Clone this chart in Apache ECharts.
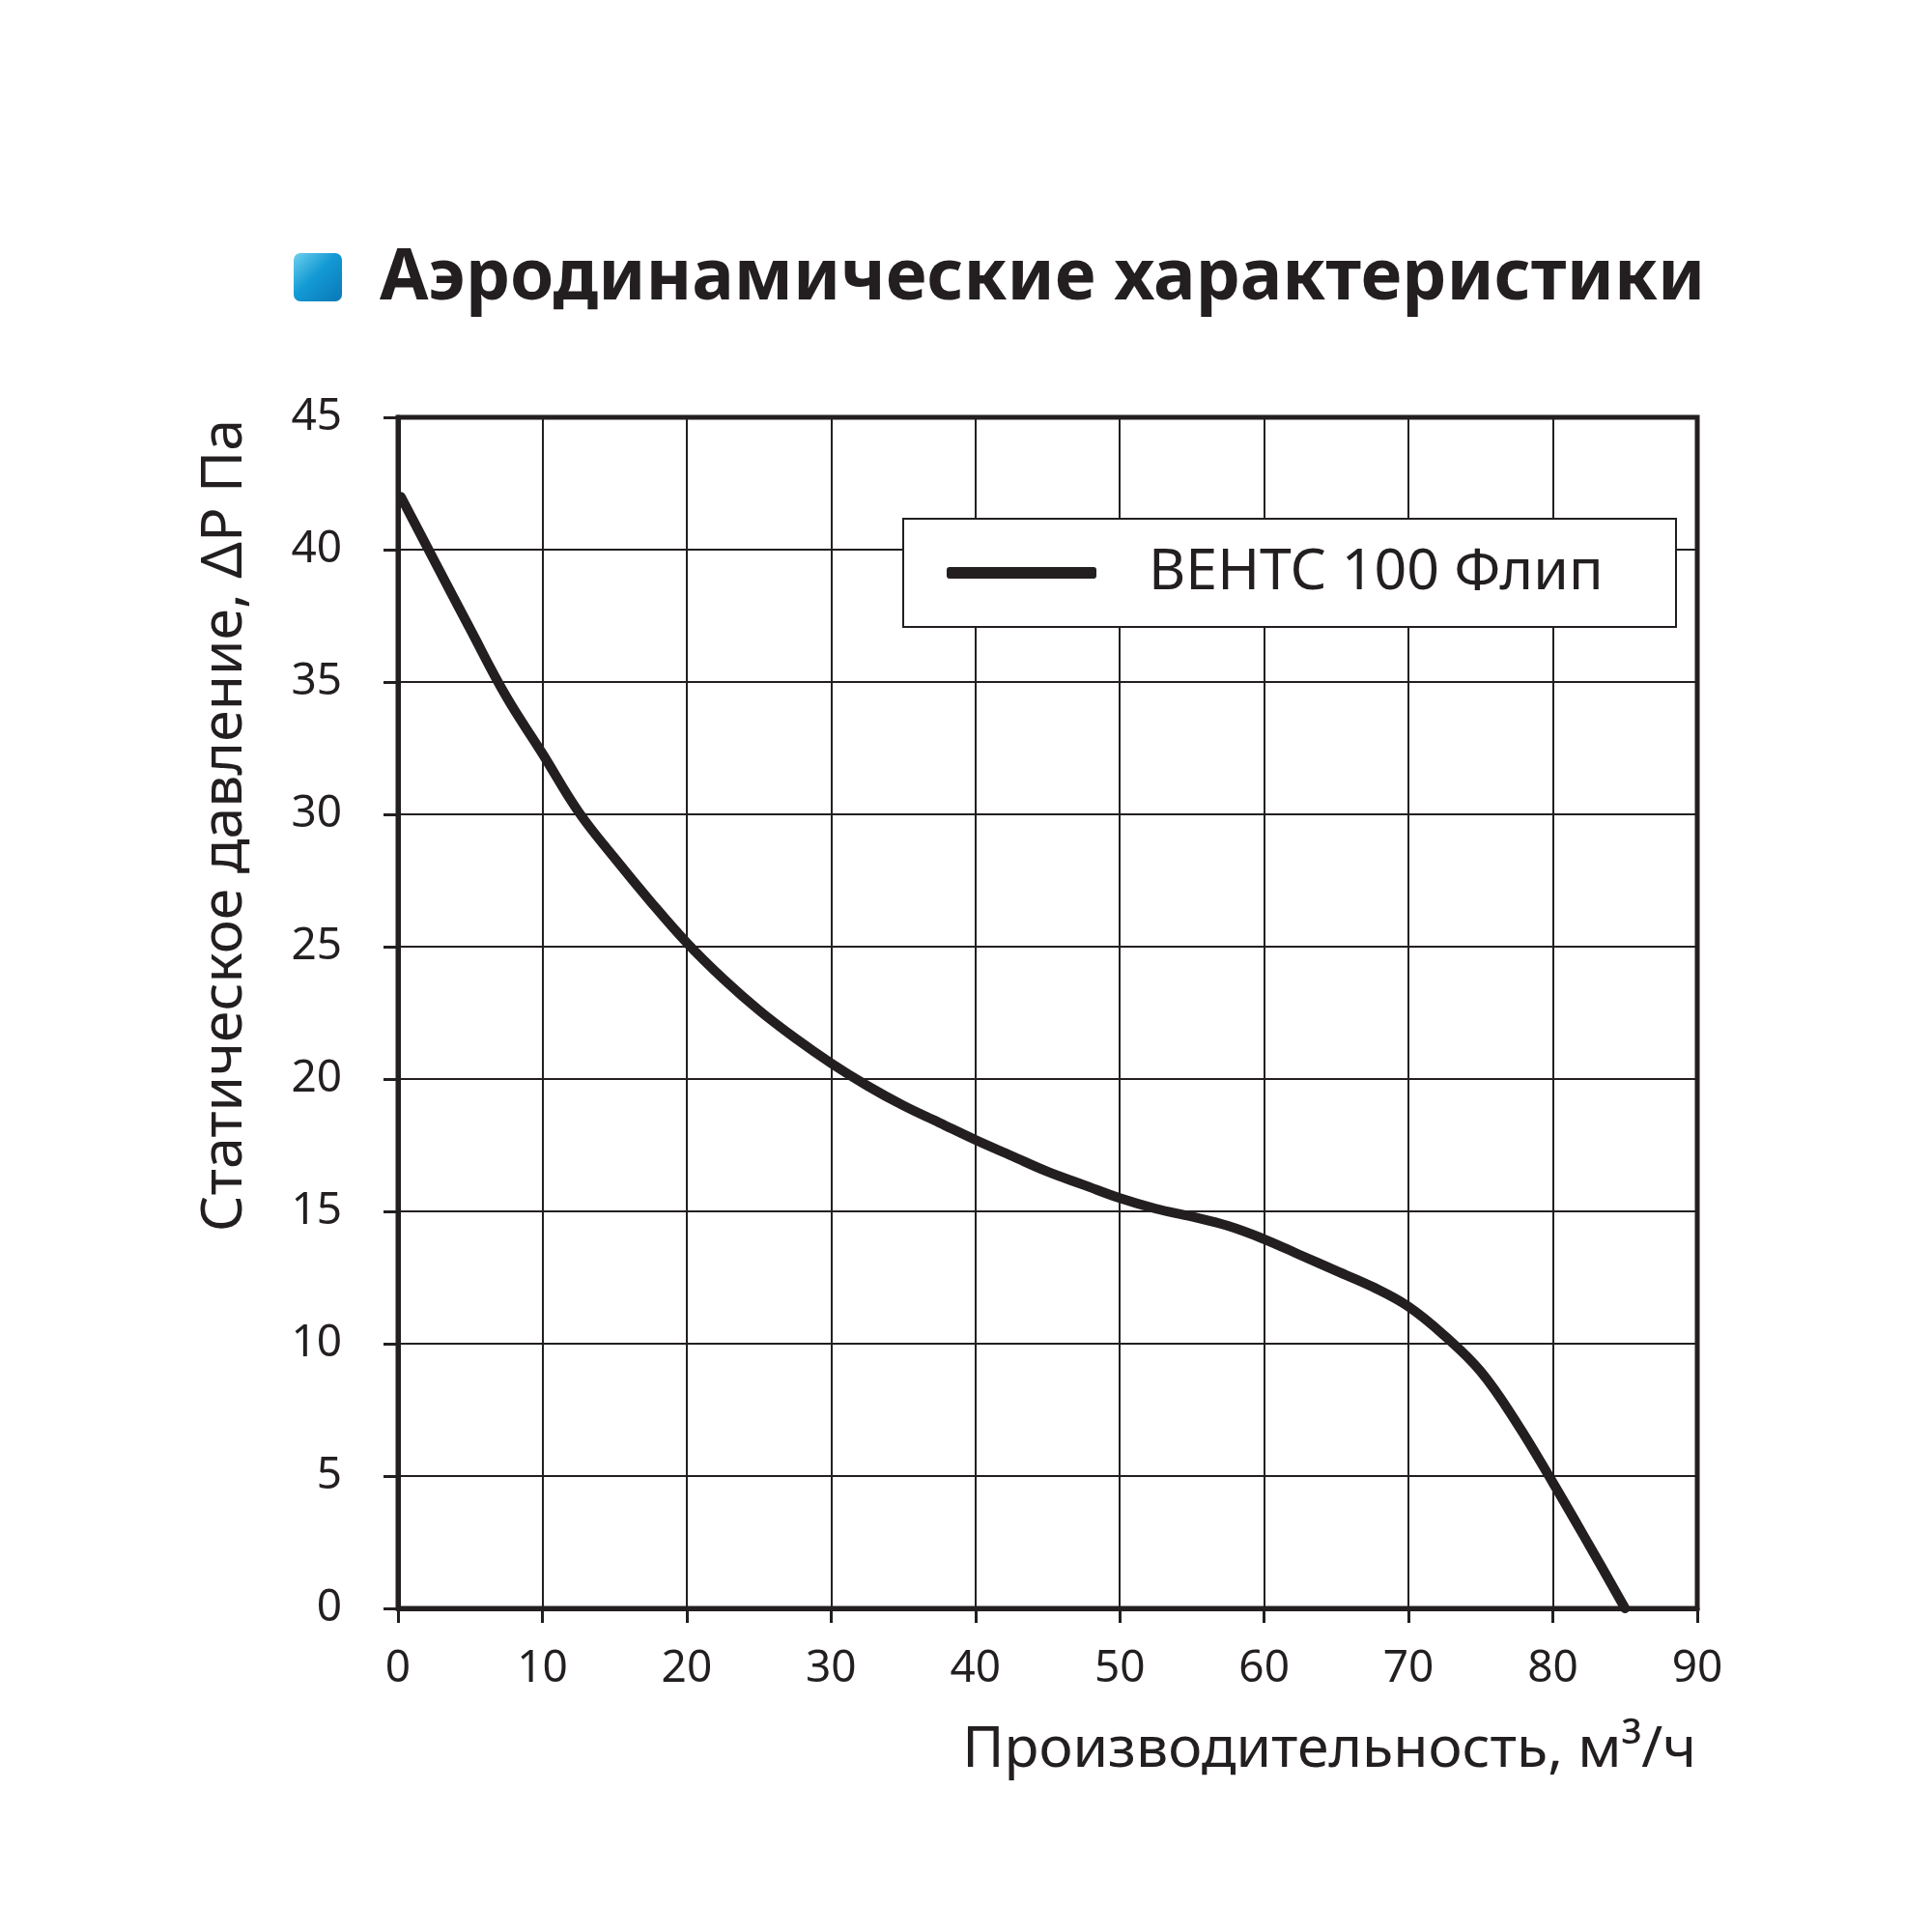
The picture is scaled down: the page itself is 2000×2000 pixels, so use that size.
<!DOCTYPE html>
<html>
<head>
<meta charset="utf-8">
<script src="https://cdn.jsdelivr.net/npm/echarts@6/dist/echarts.min.js"></script>
<style>html,body{margin:0;padding:0;background:#fff}#c{width:2000px;height:2000px}</style>
</head>
<body>
<div id="c"></div>
<script>
// ---- data ----
const titleText = 'Аэродинамические характеристики';
const seriesName = 'ВЕНТС 100 Флип';
const xAxisName = 'Производительность, м³/ч';
const yAxisName = 'Статическое давление, ΔP Па';
const flow = [0.2, 2.5, 5, 7.5, 10, 12.5, 15, 17.5, 20, 22.5, 25, 27.5, 30, 32.5, 35, 37.5, 40, 42.5, 45, 47.5, 50, 52.5, 55, 57.5, 60, 62.5, 65, 67.5, 70, 72.5, 75, 77.5, 80, 82.5, 85];
const pressure = [42.0, 39.6, 37.0, 34.45, 32.3, 30.1, 28.35, 26.7, 25.15, 23.8, 22.6, 21.55, 20.6, 19.75, 19.0, 18.35, 17.7, 17.1, 16.5, 16.0, 15.5, 15.1, 14.8, 14.45, 13.95, 13.35, 12.75, 12.15, 11.4, 10.3, 8.95, 7.0, 4.75, 2.4, 0];
const xTicks = {min: 0, max: 90, interval: 10};
const yTicks = {min: 0, max: 45, interval: 5};

const ink = '#231f20';
const font = 'Noto Sans';
const chart = echarts.init(document.getElementById('c'), null, {renderer: 'canvas'});
chart.setOption({
  animation: false,
  backgroundColor: '#fff',
  textStyle: {fontFamily: font, color: ink},
  grid: {left: 412, right: 243, top: 432, bottom: 335, show: true, borderColor: ink, borderWidth: 5, containLabel: false},
  xAxis: {
    type: 'value', min: xTicks.min, max: xTicks.max, interval: xTicks.interval,
    axisLine: {show: true, lineStyle: {color: ink, width: 5}},
    axisTick: {show: true, length: 15, lineStyle: {color: ink, width: 3}},
    axisLabel: {fontFamily: font, fontSize: 46, color: ink, margin: 40},
    splitLine: {show: true, lineStyle: {color: ink, width: 2}}
  },
  yAxis: {
    type: 'value', min: yTicks.min, max: yTicks.max, interval: yTicks.interval,
    axisLine: {show: true, lineStyle: {color: ink, width: 5}},
    axisTick: {show: true, length: 15, lineStyle: {color: ink, width: 3}},
    axisLabel: {fontFamily: font, fontSize: 46, color: ink, margin: 58},
    splitLine: {show: true, lineStyle: {color: ink, width: 2}}
  },
  legend: {
    show: true, left: 935, top: 537, orient: 'horizontal',
    padding: [25, 0, 25, 45],
    backgroundColor: '#fff', borderColor: ink, borderWidth: 2, borderRadius: 0,
    itemWidth: 155, itemHeight: 12,
    icon: 'roundRect',
    itemStyle: {color: ink, borderWidth: 0},
    textStyle: {fontFamily: font, fontSize: 59, color: ink, lineHeight: 62, width: 546, padding: [0, 0, 0, 49]},
    data: [seriesName]
  },
  graphic: [
    {type: 'rect', left: 304, top: 262, shape: {width: 50, height: 50, r: 7},
     style: {fill: new echarts.graphic.LinearGradient(0, 0, 1, 1, [
       {offset: 0, color: '#6fd0ee'}, {offset: 0.45, color: '#139ad4'}, {offset: 1, color: '#0a78b8'}])}},
    {type: 'text', left: 393, top: 253, style: {text: titleText, font: 'bold 73px "Noto Sans"', fill: ink}},
    {type: 'text', right: 244, top: 1783, style: {text: xAxisName, font: '59px "Noto Sans"', fill: ink}},
    {type: 'text', left: 204, top: 434, rotation: Math.PI / 2, originX: 0, originY: 0,
     style: {text: yAxisName, font: '59px "Noto Sans"', fill: ink, align: 'right', verticalAlign: 'top'}}
  ],
  series: [{
    name: seriesName, type: 'line', smooth: 0.4, showSymbol: false, symbol: 'none',
    lineStyle: {color: ink, width: 10, cap: 'round', join: 'round'},
    itemStyle: {color: ink},
    data: flow.map((f, i) => [f, pressure[i]])
  }]
});
</script>
</body>
</html>
